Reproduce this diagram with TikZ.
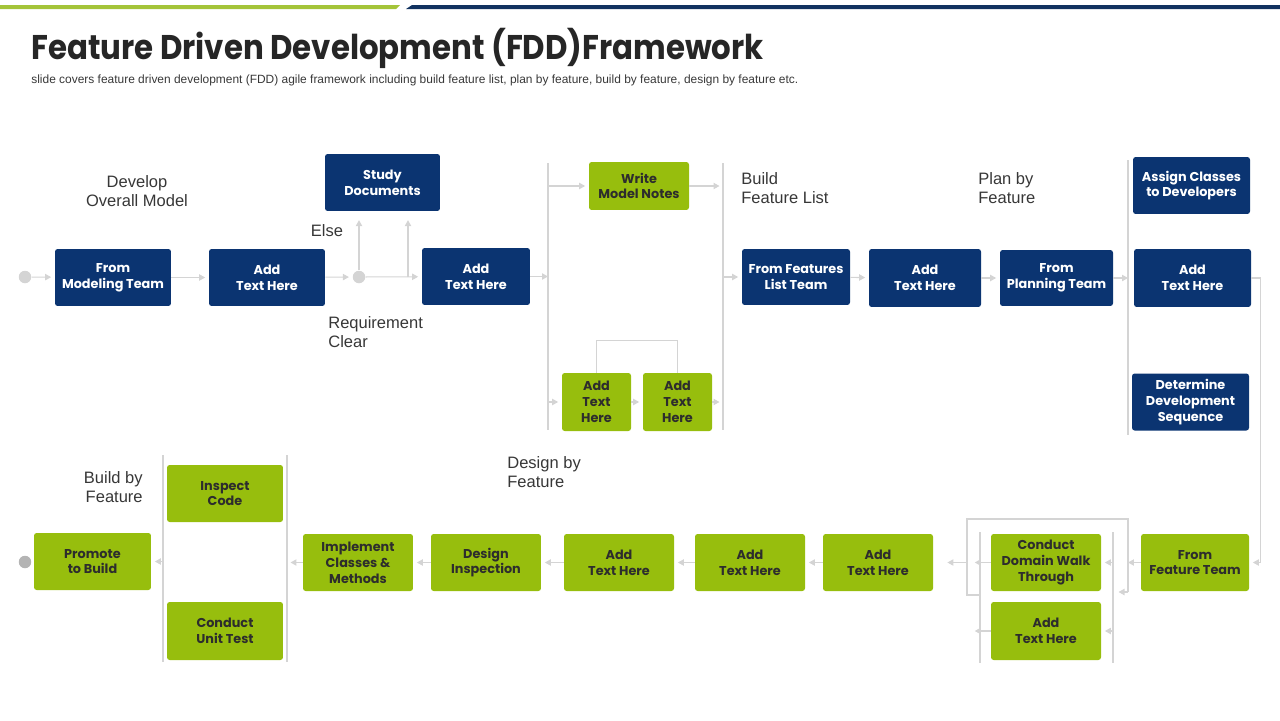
\documentclass[tikz,border=0pt]{standalone}
\usepackage{fontspec}
\setmainfont{Liberation Sans}
\newfontfamily\boxfont{Poppins}
\newfontfamily\titlefont[FakeStretch=0.9]{Poppins}
\usepackage{xcolor}
\definecolor{navyfdd}{RGB}{11,52,113}
\definecolor{greenfdd}{RGB}{151,190,13}
\definecolor{topgreen}{RGB}{164,196,57}
\definecolor{topnavy}{RGB}{17,50,96}
\definecolor{linegray}{RGB}{212,212,212}
\definecolor{titlegray}{RGB}{38,38,38}
\definecolor{textgray}{RGB}{55,55,55}
\definecolor{boxtext}{RGB}{45,45,45}
\usepackage{tikz}
\usetikzlibrary{positioning, arrows.meta}
\tikzset{
  navybox/.style={fill=navyfdd, rounded corners=1.5pt, text=white, align=center,
    font=\boxfont\bfseries\fontsize{7.3}{9}\selectfont,
    minimum width=2.32cm, minimum height=1.14cm, inner sep=0pt},
  greenbox/.style={navybox, fill=greenfdd, text=boxtext},
  flow/.style={draw=linegray, line width=0.6pt, shorten >=2pt,
    -{Triangle[width=3.6pt,length=3.4pt]}},
  wire/.style={draw=linegray, line width=0.6pt},
  phase/.style={font=\fontsize{9.4}{10.8}\selectfont, text=textgray, inner sep=0pt},
  dot/.style={circle, fill=linegray, minimum size=0.25cm, inner sep=0pt},
}

\begin{document}
\begin{tikzpicture}[x=0.02cm, y=-0.02cm]
    \useasboundingbox (0,0) rectangle (1280,720);
    % Top bars and heading
    \fill[topgreen] (0,5) -- (400,5) -- (396,9) -- (0,9) -- cycle;
    \fill[topnavy] (412,5) -- (1280,5) -- (1280,9) -- (406,9) -- cycle;
    \node[anchor=base west, inner sep=0pt, text=titlegray,
      font=\titlefont\bfseries\fontsize{19.5}{24}\selectfont] (title) at (31,59)
      {Feature Driven Development (FDD)Framework};
    \node[anchor=base west, inner sep=0pt, text=textgray,
      font=\fontsize{6.8}{8}\selectfont] (subtitle) at (31,83)
      {slide covers feature driven development (FDD) agile framework including build feature list, plan by feature, build by feature, design by feature etc.};

    % Phase labels
    \node[phase, align=center] (lblmodel) at (137,191.5) {Develop\\Overall Model};
    \node[phase] (lblelse) at (327,231) {Else};
    \node[phase, align=left, anchor=west] (lblreq) at (328,332.5) {Requirement\\Clear};
    \node[phase, align=left, anchor=west] (lbllist) at (741,188.5) {Build\\Feature List};
    \node[phase, align=left, anchor=west] (lblplan) at (978,188.5) {Plan by\\Feature};
    \node[phase, align=right, anchor=east] (lblbuild) at (143,487.5) {Build by\\Feature};
    \node[phase, align=left, anchor=west] (lbldesign) at (507,472.5) {Design by\\Feature};

    % Row 1: develop overall model
    \node[dot] (start) at (25,277) {};
    \node[navybox] (model) at (113,277.5) {From\\Modeling Team};
    \node[navybox] (add1) at (267,277.5) {Add\\Text Here};
    \node[dot] (split) at (359,277) {};
    \coordinate (fork) at (408,277);
    \node[navybox, minimum width=2.3cm] (study) at (382.5,182.5) {Study\\Documents};
    \node[navybox, minimum width=2.16cm] (add2) at (476,276.5) {Add\\Text Here};
    \draw[flow] (start) -- (model);
    \draw[flow] (model) -- (add1);
    \draw[flow] (add1) -- (split);
    \draw[flow] (split) -- (add2);
    \draw[flow, shorten >=5pt] (split) -- (split |- study.south);
    \draw[flow, shorten >=5pt] (fork) -- (fork |- study.south);

    % Model notes between two rails
    \coordinate (railA) at (548,163);
    \coordinate (railAend) at (548,430);
    \coordinate (railB) at (723,163);
    \coordinate (railBend) at (723,430);
    \draw[wire] (railA) -- (railAend);
    \draw[wire] (railB) -- (railBend);
    \node[greenbox, minimum width=2cm, minimum height=0.96cm] (notes) at (639,186) {Write\\Model Notes};
    \node[greenbox, minimum width=1.38cm, minimum height=1.16cm] (textA) at (596.5,402) {Add\\Text\\Here};
    \node[greenbox, minimum width=1.38cm, minimum height=1.16cm] (textB) at (677.5,402) {Add\\Text\\Here};
    \draw[flow, shorten >=0pt] (add2) -- (add2 -| railA);
    \draw[flow] (railA |- notes) -- (notes);
    \draw[flow] (notes) -- (notes -| railB);
    \draw[flow] (railA |- textA) -- (textA);
    \draw[flow] (textA) -- (textB);
    \draw[flow] (textB) -- (textB -| railB);
    \draw[wire] (textA.north) -- ++(0,-32) -| (textB.north);

    % Row 1: feature list and planning
    \node[navybox, minimum width=2.16cm, minimum height=1.12cm] (feat) at (796,277) {From Features\\List Team};
    \node[navybox, minimum width=2.24cm, minimum height=1.16cm] (add3) at (925,278) {Add\\Text Here};
    \node[navybox, minimum width=2.26cm, minimum height=1.12cm] (plan) at (1056.5,278) {From\\Planning Team};
    \coordinate (railC) at (1128,160);
    \coordinate (railCend) at (1128,435);
    \draw[wire] (railC) -- (railCend);
    \draw[flow] (railB |- feat) -- (feat);
    \draw[flow] (feat) -- (add3);
    \draw[flow] (add3) -- (plan);
    \draw[flow, shorten >=0pt] (plan) -- (plan -| railC);
    \node[navybox, minimum width=2.34cm] (assign) at (1191.5,185.5) {Assign Classes\\to Developers};
    \node[navybox, minimum width=2.34cm, minimum height=1.16cm] (add4) at (1192.5,278) {Add\\Text Here};
    \node[navybox, minimum width=2.34cm] (seq) at (1190.5,402) {Determine\\Development\\Sequence};

    % Row 2: design by feature
    \node[greenbox, minimum width=2.16cm] (team) at (1195,562.5) {From\\Feature Team};
    \draw[flow] (add4.east) -- ++(9,0) |- (team.east);
    \node[greenbox, minimum width=2.2cm] (walk) at (1046,562.5) {Conduct\\Domain Walk\\Through};
    \node[greenbox, minimum width=2.2cm, minimum height=1.16cm] (add5) at (1046,631) {Add\\Text Here};
    \coordinate (railD) at (1113,532);
    \coordinate (railDend) at (1113,663);
    \coordinate (railE) at (980,532);
    \coordinate (railEend) at (980,663);
    \coordinate (loopNE) at (1128,519);
    \coordinate (loopSW) at (967,595);
    \draw[wire] (railD) -- (railDend);
    \draw[wire] (railE) -- (railEend);
    \draw[wire] (railE |- loopSW) -- (loopSW) |- (loopNE) -- ++(0,73);
    \draw[flow] (loopNE) ++(0,73) -- ++(-13,0);
    \draw[flow, shorten >=0pt] (team) -- (team -| loopNE);
    \draw[flow] (railD |- walk) -- (walk);
    \draw[flow] (railD |- add5) -- (add5);
    \draw[flow, shorten >=-3pt] (walk) -- (walk -| railE);
    \draw[flow, shorten >=-3pt] (add5) -- (add5 -| railE);

    \foreach \name/\xc/\txt in {add6/878/{Add\\Text Here}, add7/750/{Add\\Text Here},
        add8/619/{Add\\Text Here}, insp/486/{Design\\Inspection},
        impl/358/{Implement\\Classes \&\\Methods}} {
      \node[greenbox, minimum width=2.2cm] (\name) at (\xc,562.5) {\txt};
    }
    \draw[flow, shorten >=8pt] (loopSW |- walk) -- (add6);
    \draw[flow] (add6) -- (add7);
    \draw[flow] (add7) -- (add8);
    \draw[flow] (add8) -- (insp);
    \draw[flow] (insp) -- (impl);

    % Row 2: build by feature
    \coordinate (railF) at (287,455);
    \coordinate (railFend) at (287,662);
    \coordinate (railG) at (163,455);
    \coordinate (railGend) at (163,662);
    \draw[wire] (railF) -- (railFend);
    \draw[wire] (railG) -- (railGend);
    \node[greenbox] (inspect) at (225,493.5) {Inspect\\Code};
    \node[greenbox, minimum height=1.16cm] (unit) at (225,631) {Conduct\\Unit Test};
    \node[greenbox, minimum width=2.34cm] (promote) at (92.5,561.5) {Promote\\to Build};
    \node[dot, fill=linegray!85!black] (finish) at (25,562) {};
    \draw[flow] (impl) -- (impl -| railF);
    \draw[flow] (railG |- promote) -- (promote);
\end{tikzpicture}
\end{document}
